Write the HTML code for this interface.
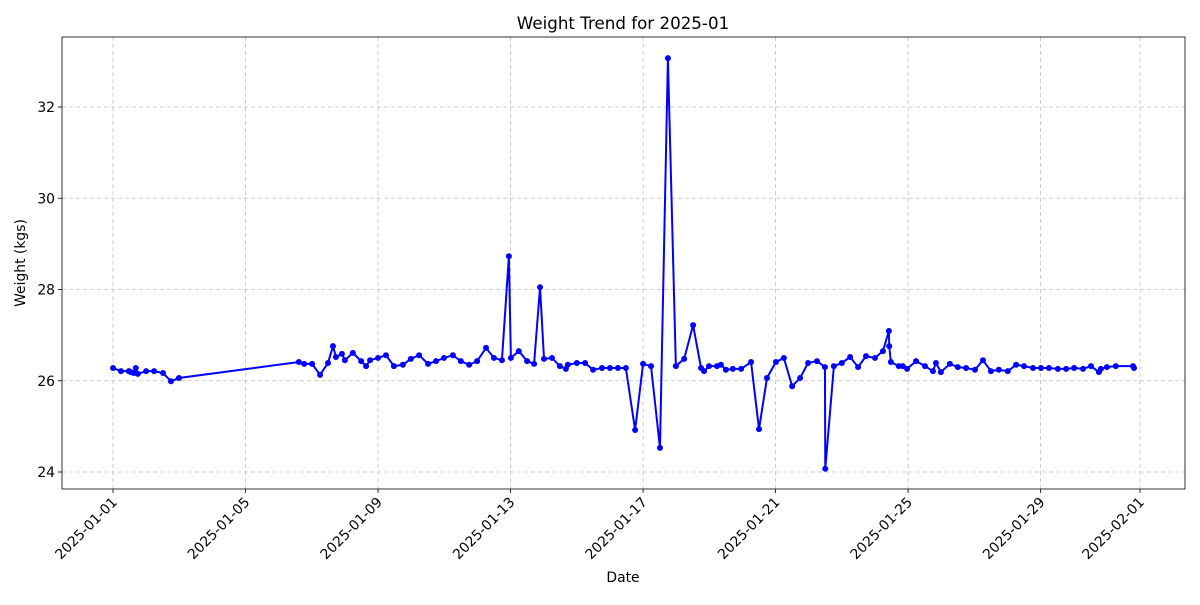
<!DOCTYPE html>
<html><head><meta charset="utf-8"><style>
body{margin:0;background:#fff;font-family:"Liberation Sans","DejaVu Sans",sans-serif}
svg text{font-family:"DejaVu Sans","Liberation Sans",sans-serif}
</style></head><body>
<svg id="chart" width="1200" height="600"></svg>
<script>
const dayOffsets=[0,0.24,0.48,0.54,0.63,0.69,0.75,1.0,1.24,1.51,1.75,1.99,
5.61,5.77,6.01,6.25,6.49,6.64,6.73,6.91,7.0,7.24,7.49,7.64,7.76,8.0,8.24,8.48,8.75,8.99,9.24,9.51,9.75,9.99,10.26,10.5,10.75,10.99,11.26,11.5,11.74,11.95,12.01,12.25,12.5,12.71,12.89,13.01,13.25,13.49,13.67,13.73,14.0,14.25,14.49,14.76,15.0,15.24,15.48,15.76,16.0,16.24,16.51,16.75,16.99,17.24,17.51,17.75,17.84,17.99,18.23,18.35,18.5,18.71,18.96,19.26,19.5,19.74,20.01,20.25,20.5,20.74,20.98,21.25,21.49,21.5,21.76,22.0,22.25,22.49,22.73,23.0,23.24,23.42,23.43,23.48,23.72,23.84,23.97,24.24,24.51,24.75,24.84,24.99,25.26,25.5,25.75,26.02,26.26,26.5,26.74,27.01,27.26,27.5,27.77,28.01,28.25,28.52,28.77,29.01,29.28,29.52,29.76,29.82,30.0,30.27,30.79,30.82];
const weights=[26.28,26.21,26.21,26.19,26.17,26.28,26.15,26.21,26.21,26.17,25.99,26.06,
26.41,26.37,26.37,26.13,26.39,26.76,26.52,26.59,26.45,26.61,26.43,26.32,26.45,26.50,26.56,26.32,26.35,26.48,26.56,26.37,26.43,26.50,26.56,26.43,26.35,26.43,26.72,26.50,26.45,28.73,26.50,26.65,26.43,26.37,28.05,26.48,26.50,26.32,26.26,26.35,26.39,26.39,26.24,26.28,26.28,26.28,26.28,24.92,26.37,26.32,24.53,33.07,26.32,26.48,27.22,26.28,26.21,26.32,26.32,26.35,26.24,26.26,26.26,26.41,24.94,26.06,26.41,26.50,25.88,26.06,26.39,26.43,26.30,24.07,26.32,26.39,26.52,26.30,26.54,26.50,26.65,27.09,26.76,26.41,26.32,26.32,26.26,26.43,26.32,26.21,26.39,26.19,26.37,26.30,26.28,26.24,26.45,26.21,26.24,26.21,26.35,26.32,26.28,26.28,26.28,26.26,26.26,26.28,26.26,26.32,26.19,26.26,26.30,26.32,26.32,26.28];
const xTickDays=[0,4,8,12,16,20,24,28,31];
const xTickLabels=["2025-01-01","2025-01-05","2025-01-09","2025-01-13","2025-01-17","2025-01-21","2025-01-25","2025-01-29","2025-02-01"];
const yTicks=[24,26,28,30,32];

const svg=document.getElementById('chart');
const NS='http://www.w3.org/2000/svg';
const L=62,R=1185,T=37,B=489;
const xs=d=>113+d*(1027/31);
const ys=w=>472-(w-24)*45.625;
function mk(tag,attrs,parent){const e=document.createElementNS(NS,tag);for(const k in attrs)e.setAttribute(k,attrs[k]);(parent||svg).appendChild(e);return e;}

const grid=mk('g',{});


xTickDays.forEach((d,i)=>{
  mk('line',{x1:xs(d),x2:xs(d),y1:T,y2:B,stroke:'#b0b0b0','stroke-width':0.8,'stroke-dasharray':'4,3',opacity:0.8},grid);
  mk('line',{x1:xs(d),x2:xs(d),y1:B,y2:B+4,stroke:'#000','stroke-width':0.8});
  const ax=xs(d)+5, ay=B+14;
  const t=mk('text',{x:ax,y:ay,'font-size':13.9,'text-anchor':'end',transform:`rotate(-45 ${ax} ${ay})`});
  t.textContent=xTickLabels[i];
  
  
});
yTicks.forEach(v=>{
  mk('line',{x1:L,x2:R,y1:ys(v),y2:ys(v),stroke:'#b0b0b0','stroke-width':0.8,'stroke-dasharray':'4,3',opacity:0.8},grid);
  mk('line',{x1:L-4,x2:L,y1:ys(v),y2:ys(v),stroke:'#000','stroke-width':0.8});
  const t=mk('text',{x:L-7,y:ys(v)+5,'font-size':13.9,'text-anchor':'end'});
  t.textContent=v;
  
  
});
const frame=mk('rect',{x:L,y:T,width:R-L,height:B-T,fill:'none',stroke:'#000','stroke-width':0.8});



const line=mk('polyline',{points:dayOffsets.map((d,i)=>xs(d)+','+ys(weights[i])).join(' '),fill:'none',stroke:'#0000ff','stroke-width':2});


dayOffsets.forEach((d,i)=>{
  const c=mk('circle',{cx:xs(d),cy:ys(weights[i]),r:3,fill:'#0000ff'});
  
  
});

const title=mk('text',{x:623,y:29,'font-size':16.7,'text-anchor':'middle'});
title.textContent='Weight Trend for 2025-01';


const xt=mk('text',{x:623,y:582,'font-size':13.9,'text-anchor':'middle'});
xt.textContent='Date';


const yt=mk('text',{x:25,y:263,'font-size':13.9,'text-anchor':'middle',transform:'rotate(-90 25 263)'});
yt.textContent='Weight (kgs)';


</script>
</body></html>
